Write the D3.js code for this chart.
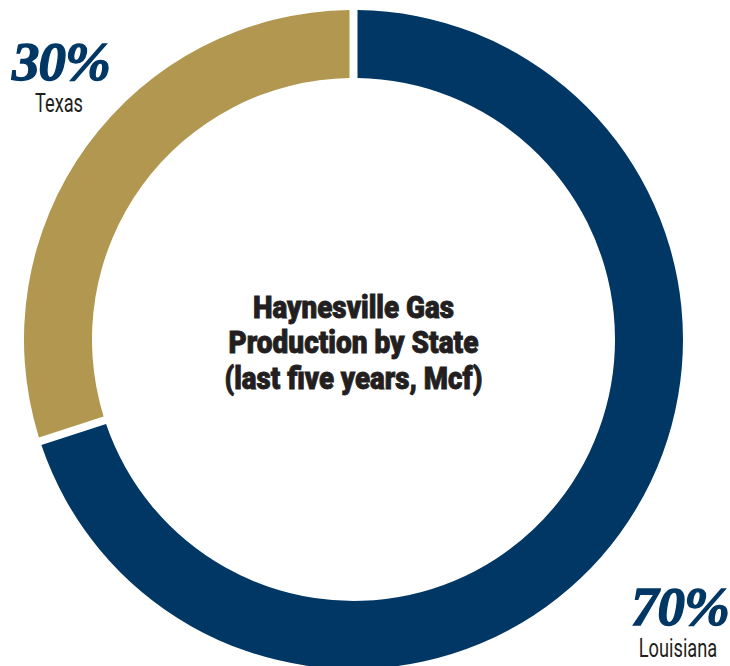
<!DOCTYPE html>
<html>
<head>
<meta charset="utf-8">
<script src="https://cdn.jsdelivr.net/npm/d3@7"></script>
<style>
  html, body { margin: 0; padding: 0; background: #ffffff; }
  svg { display: block; }
</style>
</head>
<body>
<svg id="chart" width="730" height="666"></svg>
<script>
// Share of Haynesville gas production by state (percent)
const states = ["Louisiana", "Texas"];
const shares = [70, 30];
const colors = ["#003764", "#b1974f"];
const titleLines = ["Haynesville Gas", "Production by State", "(last five years, Mcf)"];

const width = 730, height = 666;
const cx = 353.5, cy = 339.5;
const outerR = 329.5, innerR = 261.5;

const svg = d3.select("#chart");

const pie = d3.pie().sort(null).value(d => d);
const arcs = pie(shares);

const arc = d3.arc()
  .innerRadius(innerR)
  .outerRadius(outerR)
  .padRadius(outerR)
  .padAngle(8 / outerR);

const g = svg.append("g").attr("transform", `translate(${cx},${cy})`);

g.selectAll("path")
  .data(arcs)
  .join("path")
  .attr("d", arc)
  .attr("fill", (d, i) => colors[i]);

// Centre title: heavy, condensed
const titleFont = "Roboto, 'Liberation Sans', sans-serif";
const titleWidths = [201, 250, 258];
g.selectAll("text.title")
  .data(titleLines)
  .join("text")
  .attr("class", "title")
  .attr("x", 0)
  .attr("y", (d, i) => -22 + i * 35.5)
  .attr("text-anchor", "middle")
  .attr("font-family", titleFont)
  .attr("font-weight", 900)
  .attr("font-size", 31.5)
  .attr("fill", "#231f20")
  .attr("stroke", "#231f20")
  .attr("stroke-width", 0.9)
  .attr("textLength", (d, i) => titleWidths[i])
  .attr("lengthAdjust", "spacingAndGlyphs")
  .text(d => d);

// Percent and state labels (horizontally condensed with a scale transform)
const labelSpec = [
  { pctX: 680, pctY: 625, pctSx: 1.0, nameX: 678, nameY: 657, nameSx: 0.73 },
  { pctX: 61, pctY: 80, pctSx: 1.0, nameX: 59, nameY: 112, nameSx: 0.73 }
];

const labels = svg.selectAll("g.label")
  .data(arcs)
  .join("g")
  .attr("class", "label");

labels.append("text")
  .attr("transform", (d, i) => `translate(${labelSpec[i].pctX},${labelSpec[i].pctY}) scale(${labelSpec[i].pctSx},1)`)
  .attr("text-anchor", "middle")
  .attr("font-family", "'Liberation Serif', 'DejaVu Serif', serif")
  .attr("font-style", "italic")
  .attr("font-weight", 700)
  .attr("font-size", 55)
  .attr("fill", "#003764")
  .attr("stroke", "#003764")
  .attr("stroke-width", 1.3)
  .attr("letter-spacing", -1)
  .text(d => d.data + "%");

labels.append("text")
  .attr("transform", (d, i) => `translate(${labelSpec[i].nameX},${labelSpec[i].nameY}) scale(${labelSpec[i].nameSx},1)`)
  .attr("text-anchor", "middle")
  .attr("font-family", "Roboto, 'Liberation Sans', sans-serif")
  .attr("font-weight", 400)
  .attr("font-size", 25)
  .attr("fill", "#231f20")
  .text((d, i) => states[i]);
</script>
</body>
</html>
